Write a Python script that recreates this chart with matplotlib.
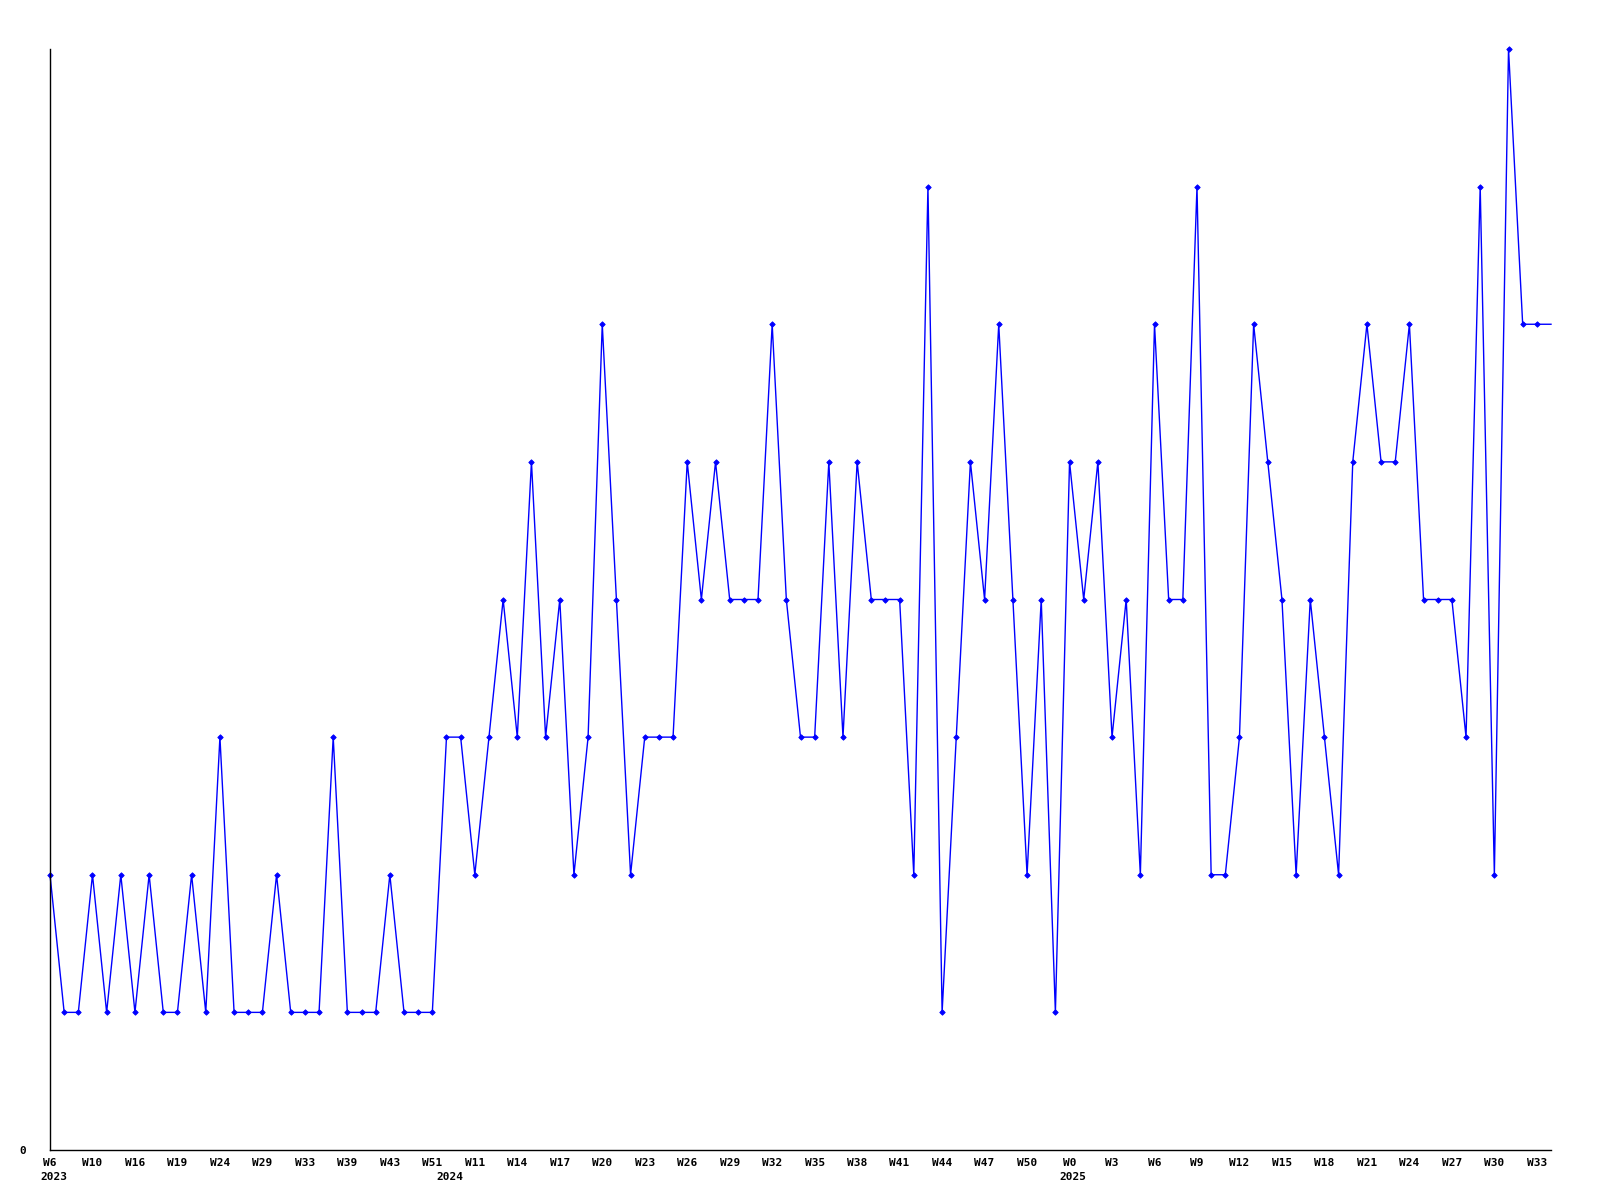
import matplotlib
matplotlib.use("Agg")
import matplotlib.pyplot as plt
import matplotlib.transforms as mtransforms

# Weekly counts (last value extends the line to the right edge, no marker)
values = [2, 1, 1, 2, 1, 2, 1, 2, 1, 1, 2, 1, 3, 1, 1, 1, 2, 1, 1, 1,
          3, 1, 1, 1, 2, 1, 1, 1, 3, 3, 2, 3, 4, 3, 5, 3, 4, 2, 3, 6,
          4, 2, 3, 3, 3, 5, 4, 5, 4, 4, 4, 6, 4, 3, 3, 5, 3, 5, 4, 4,
          4, 2, 7, 1, 3, 5, 4, 6, 4, 2, 4, 1, 5, 4, 5, 3, 4, 2, 6, 4,
          4, 7, 2, 2, 3, 6, 5, 4, 2, 4, 3, 2, 5, 6, 5, 5, 6, 4, 4, 4,
          3, 7, 2, 8, 6, 6, 6]

week_labels = ["W6", "W10", "W16", "W19", "W24", "W29", "W33", "W39", "W43", "W51",
               "W11", "W14", "W17", "W20", "W23", "W26", "W29", "W32", "W35", "W38",
               "W41", "W44", "W47", "W50", "W0", "W3", "W6", "W9", "W12", "W15",
               "W18", "W21", "W24", "W27", "W30", "W33"]
label_step = 3

year_labels = ["2023", "2024", "2025"]
year_starts = [0, 28, 72]

n_marked = len(values) - 1
xs = list(range(len(values)))

fig = plt.figure(figsize=(16, 12), dpi=100)
ax = fig.add_axes([50 / 1600, 50 / 1200, 1501 / 1600, 1101 / 1200])

ax.plot(xs, values, color="#0000ff", linewidth=1.0, marker="D", markersize=2.8,
        markevery=list(range(n_marked)), markeredgewidth=0.6,
        markerfacecolor="#0000ff", markeredgecolor="#0000ff", clip_on=False)

ax.set_xlim(0, len(values) - 1)
ax.set_ylim(0, 8)

font = dict(family="DejaVu Sans Mono", weight="bold", size=8)

ax.set_xticks(list(range(0, len(week_labels) * label_step, label_step)))
ax.set_xticklabels(week_labels, **font)
ax.set_yticks([0])
ax.set_yticklabels(["0"], **font)
ax.tick_params(axis="x", length=0, pad=5.5)
ax.tick_params(axis="y", length=0, pad=17)

for s in ["top", "right"]:
    ax.spines[s].set_visible(False)
for s in ["left", "bottom"]:
    ax.spines[s].set_linewidth(1.0)
    ax.spines[s].set_color("black")

trans = mtransforms.offset_copy(ax.get_xaxis_transform(), fig=fig, x=-10, y=-22, units="dots")
for lab, xi in zip(year_labels, year_starts):
    ax.text(xi, 0, lab, transform=trans, ha="left", va="top", **font)

fig.savefig("out.png", dpi=100, facecolor="white")
